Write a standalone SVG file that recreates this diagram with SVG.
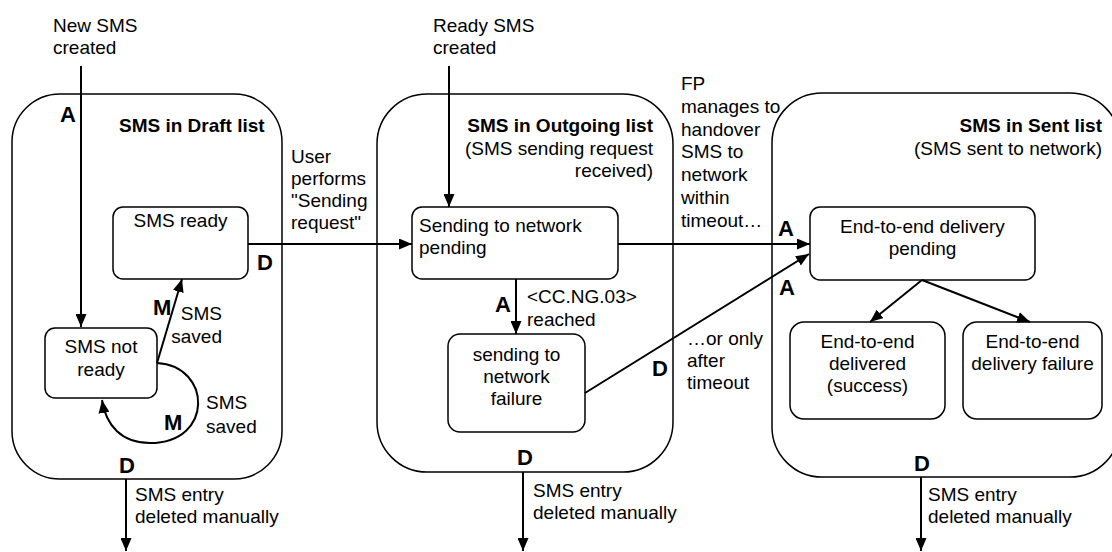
<svg xmlns="http://www.w3.org/2000/svg" width="1112" height="552" viewBox="0 0 1112 552">
<style>
text{font-family:"Liberation Sans",Arial,sans-serif;font-size:19px;fill:#000}
.b{font-weight:bold}
.l{font-weight:bold;font-size:22px}
.m{text-anchor:middle}
.e{text-anchor:end}
.cont{fill:#fff;stroke:#000;stroke-width:1.5}
.box{fill:#fff;stroke:#000;stroke-width:1.5}
.c{fill:none;stroke:#000;stroke-width:2;marker-end:url(#ah)}
</style>
<defs>
<marker id="ah" viewBox="0 0 13 11" refX="13" refY="5.5" markerWidth="13" markerHeight="11" orient="auto" markerUnits="userSpaceOnUse">
<path d="M0,0 L13,5.5 L0,11 z" fill="#000"/>
</marker>
</defs>
<rect width="1112" height="552" fill="#fff"/>
<g id="draft">
<rect class="cont" x="12" y="94" width="270" height="385" rx="48"/>
<text class="b" x="119" y="132">SMS in Draft list</text>
</g>
<g id="outgoing">
<rect class="cont" x="377" y="94" width="296" height="378" rx="50"/>
<text class="b e" x="653" y="132">SMS in Outgoing list</text>
<text class="e" x="653" y="155">(SMS sending request</text>
<text class="e" x="653" y="177">received)</text>
</g>
<g id="sent">
<rect class="cont" x="772" y="93" width="348" height="384" rx="50"/>
<text class="b e" x="1102" y="132">SMS in Sent list</text>
<text class="e" x="1102" y="155">(SMS sent to network)</text>
</g>
<g id="sms-ready">
<rect class="box" x="113" y="207" width="135" height="72" rx="10"/>
<text class="m" x="180.5" y="227">SMS ready</text>
</g>
<g id="sms-not-ready">
<rect class="box" x="45" y="328" width="112" height="70" rx="10"/>
<text class="m" x="101" y="353">SMS not</text>
<text class="m" x="101" y="376">ready</text>
</g>
<g id="sending-pending">
<rect class="box" x="412" y="207" width="206" height="72" rx="10"/>
<text x="419" y="232">Sending to network</text>
<text x="419" y="254">pending</text>
</g>
<g id="sending-failure">
<rect class="box" x="448" y="334" width="137" height="98" rx="12"/>
<text class="m" x="516.5" y="361">sending to</text>
<text class="m" x="516.5" y="383">network</text>
<text class="m" x="516.5" y="405">failure</text>
</g>
<g id="e2e-pending">
<rect class="box" x="810" y="207" width="225" height="73" rx="10"/>
<text class="m" x="922.5" y="233">End-to-end delivery</text>
<text class="m" x="922.5" y="255">pending</text>
</g>
<g id="e2e-delivered">
<rect class="box" x="790" y="322" width="155" height="97" rx="14"/>
<text class="m" x="867.5" y="348">End-to-end</text>
<text class="m" x="867.5" y="370">delivered</text>
<text class="m" x="867.5" y="392">(success)</text>
</g>
<g id="e2e-failure">
<rect class="box" x="963" y="322" width="139" height="97" rx="14"/>
<text class="m" x="1032.5" y="348">End-to-end</text>
<text class="m" x="1032.5" y="370">delivery failure</text>
</g>
<g id="connectors">
<path class="c" d="M81,66 V327"/>
<path class="c" d="M449,66 V207"/>
<path class="c" d="M248,244 H412"/>
<path class="c" d="M618,244 H810"/>
<path class="c" d="M516,279 V334"/>
<path class="c" d="M585,393 L809,254"/>
<path class="c" d="M157,363 L182,279"/>
<path class="c" d="M157,363 C212,366 214,443 150,443 C122,443 106,426 102,400"/>
<path class="c" d="M922,280 L870,322"/>
<path class="c" d="M922,280 L1030,322"/>
<path class="c" d="M126,479 V551"/>
<path class="c" d="M523,472 V551"/>
<path class="c" d="M921,477 V551"/>
</g>
<g id="labels">
<text x="53" y="32">New SMS</text>
<text x="53" y="54">created</text>
<text x="433" y="32">Ready SMS</text>
<text x="433" y="54">created</text>
<text x="291" y="163">User</text>
<text x="291" y="185">performs</text>
<text x="291" y="207">"Sending</text>
<text x="291" y="229">request"</text>
<text class="e" x="222" y="320">SMS</text>
<text class="e" x="222" y="343">saved</text>
<text x="206" y="409">SMS</text>
<text x="206" y="433">saved</text>
<text x="681" y="90">FP</text>
<text x="681" y="113">manages to</text>
<text x="681" y="136">handover</text>
<text x="681" y="158">SMS to</text>
<text x="681" y="181">network</text>
<text x="681" y="204">within</text>
<text x="681" y="227">timeout…</text>
<text x="527" y="303">&lt;CC.NG.03&gt;</text>
<text x="527" y="326">reached</text>
<text x="687" y="345">…or only</text>
<text x="687" y="367">after</text>
<text x="687" y="389">timeout</text>
<text x="135" y="501">SMS entry</text>
<text x="135" y="523">deleted manually</text>
<text x="533" y="497">SMS entry</text>
<text x="533" y="519">deleted manually</text>
<text x="928" y="501">SMS entry</text>
<text x="928" y="523">deleted manually</text>
<text class="l" x="60" y="122">A</text>
<text class="l" x="257" y="270">D</text>
<text class="l" x="153" y="315">M</text>
<text class="l" x="164" y="430">M</text>
<text class="l" x="119" y="473">D</text>
<text class="l" x="495" y="312">A</text>
<text class="l" x="652" y="376">D</text>
<text class="l" x="517" y="465">D</text>
<text class="l" x="778" y="236">A</text>
<text class="l" x="779" y="295">A</text>
<text class="l" x="914" y="471">D</text>
</g>
</svg>
